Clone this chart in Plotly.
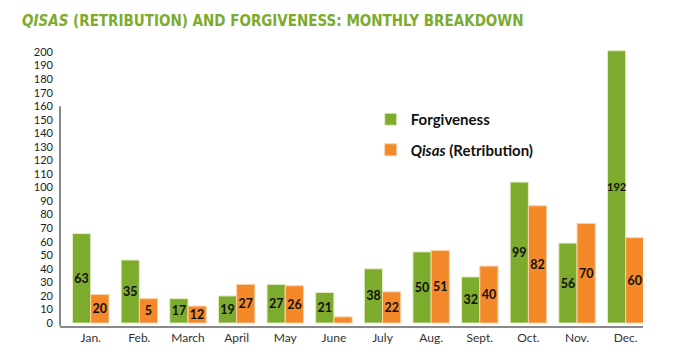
import plotly.graph_objects as go

months = ["Jan.", "Feb.", "March", "April", "May", "June", "July", "Aug.", "Sept.", "Oct.", "Nov.", "Dec."]
# bar heights as drawn
forgiveness = [66, 46.5, 18, 20, 28.5, 22.5, 40, 52.5, 34, 104, 59, 201]
qisas = [21, 18, 12.5, 28.5, 27.5, 4.5, 23, 53.5, 42, 86.5, 73.5, 63]
# labels as printed
forgiveness_labels = ["63", "35", "17", "19", "27", "21", "38", "50", "32", "99", "56", "192"]
qisas_labels = ["20", "5", "12", "27", "26", "", "22", "51", "40", "82", "70", "60"]
y_ticks = list(range(0, 201, 10))

GREEN = "#7dab2e"
ORANGE = "#f4892a"
FONT = "Lato"

f_sizes = [11 if len(t) > 2 else 12.5 for t in forgiveness_labels]
q_sizes = [11 if len(t) > 2 else 12.5 for t in qisas_labels]

fig = go.Figure()
fig.add_trace(go.Bar(
    x=months, y=forgiveness, name="<b>Forgiveness</b>",
    text=forgiveness_labels, textposition="inside", insidetextanchor="middle",
    constraintext="none",
    textfont=dict(family=FONT, size=f_sizes, color="#111111", weight="bold"),
    marker=dict(color=GREEN, line=dict(color="#e6edc4", width=1)),
    legendgroup="f", hoverinfo="skip", textangle=0,
))
fig.add_trace(go.Bar(
    x=months, y=qisas, name="<b><i>Qisas</i> (Retribution)</b>",
    text=qisas_labels, textposition="inside", insidetextanchor="middle",
    constraintext="none",
    textfont=dict(family=FONT, size=q_sizes, color="#111111", weight="bold"),
    marker=dict(color=ORANGE, line=dict(color="#f9d2a8", width=1)),
    legendgroup="q", hoverinfo="skip", textangle=0,
))

fig.update_layout(
    template="none",
    width=676, height=355,
    margin=dict(l=60, r=33, t=45, b=29, pad=0),
    paper_bgcolor="white", plot_bgcolor="white",
    barmode="group", bargap=0.25, bargroupgap=0,
    font=dict(family=FONT, color="#222222"),
    title=dict(
        text="<i>QISAS</i> (RETRIBUTION) AND FORGIVENESS: MONTHLY BREAKDOWN",
        font=dict(family="DejaVu Sans Condensed, Roboto Condensed, Arial Narrow, sans-serif",
                  size=15, color="#7dab2e", weight="bold"),
        x=22/676, xanchor="left", xref="container",
        y=1 - 15/355, yanchor="top", yref="container", automargin=False,
    ),
    legend=dict(
        x=0.533, xanchor="left", y=1 - (103 - 45) / 281, yanchor="top",
        font=dict(family=FONT, size=15, color="#111111"),
        traceorder="grouped", tracegroupgap=8, bgcolor="rgba(0,0,0,0)",
        borderwidth=0,
    ),
    xaxis=dict(
        range=[-0.632, 11.356], showline=True, linecolor="#8a8a8a", linewidth=2,
        ticks="", tickfont=dict(family=FONT, size=12, color="#333333"),
        showgrid=False, zeroline=False, automargin=False, ticklabelstandoff=0,
    ),
    yaxis=dict(
        range=[-2.2, 205.2], tickvals=y_ticks, ticktext=[str(v) for v in y_ticks],
        showline=False, showgrid=False, zeroline=False, ticks="", automargin=False,
        tickfont=dict(family=FONT, size=11, color="#222222"), ticklabelstandoff=6,
    ),
    shapes=[dict(type="line", xref="paper", yref="y", x0=0, x1=0, y0=-2.2, y1=160,
                 line=dict(color="#8a8a8a", width=2))],
)

fig.write_html("out.html", config={"displayModeBar": False},
               post_script="document.body.style.margin='0';")
